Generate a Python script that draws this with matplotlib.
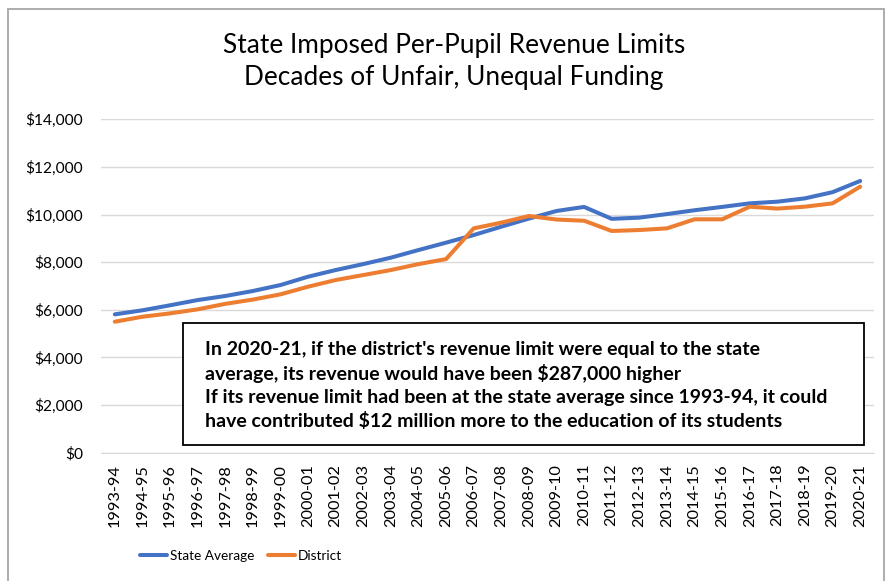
import matplotlib
matplotlib.use("Agg")
import matplotlib.pyplot as plt
from matplotlib.patches import Rectangle
from matplotlib.ticker import FuncFormatter, MultipleLocator

plt.rcParams['font.family'] = ['Lato', 'DejaVu Sans']

years = ['1993-94', '1994-95', '1995-96', '1996-97', '1997-98', '1998-99', '1999-00',
         '2000-01', '2001-02', '2002-03', '2003-04', '2004-05', '2005-06', '2006-07',
         '2007-08', '2008-09', '2009-10', '2010-11', '2011-12', '2012-13', '2013-14',
         '2014-15', '2015-16', '2016-17', '2017-18', '2018-19', '2019-20', '2020-21']
state_avg = [5810, 5980, 6190, 6410, 6580, 6790, 7040, 7390, 7670, 7920, 8190, 8510,
             8820, 9140, 9490, 9830, 10150, 10320, 9820, 9870, 10020, 10180, 10320,
             10470, 10540, 10680, 10940, 11410]
district = [5500, 5710, 5850, 6020, 6250, 6430, 6650, 6970, 7250, 7460, 7670, 7920,
            8130, 9420, 9660, 9940, 9790, 9740, 9310, 9350, 9420, 9800, 9800, 10330,
            10250, 10330, 10470, 11170]

note = ("In 2020-21, if the district's revenue limit were equal to the state\n"
        "average, its revenue would have been $287,000 higher\n"
        "If its revenue limit had been at the state average since 1993-94, it could\n"
        "have contributed $12 million more to the education of its students")

fig = plt.figure(figsize=(8.87, 5.81), dpi=100)
ax = fig.add_axes([0.1139, 0.2208, 0.8714, 0.5739])

x = range(len(years))
ax.plot(x, state_avg, color='#4472C4', lw=2.9, label='State Average', solid_capstyle='round')
ax.plot(x, district, color='#ED7D31', lw=2.9, label='District', solid_capstyle='round')

ax.set_xlim(-0.5, len(years) - 0.5)
ax.set_ylim(0, 14000)
ax.yaxis.set_major_locator(MultipleLocator(2000))
ax.yaxis.set_major_formatter(FuncFormatter(lambda v, p: '${:,.0f}'.format(v)))
ax.set_xticks(list(x))
ax.set_xticklabels(years, rotation=90)
ax.tick_params(axis='both', length=0, colors='#000000')
ax.tick_params(axis='y', pad=13, labelsize=11.2)
ax.tick_params(axis='x', pad=8, labelsize=11.8)
ax.grid(axis='y', color='#d9d9d9', lw=1)
ax.set_axisbelow(True)
for s in ['top', 'right', 'left']:
    ax.spines[s].set_visible(False)
ax.spines['bottom'].set_color('#d9d9d9')

fig.text(0.512, 0.922, 'State Imposed Per-Pupil Revenue Limits', ha='center', va='center', fontsize=18.9)
fig.text(0.512, 0.867, 'Decades of Unfair, Unequal Funding', ha='center', va='center', fontsize=18.9)

# annotation box
box = Rectangle((183 / 887, 1 - 445 / 581), (864 - 183) / 887, (445 - 323) / 581,
                transform=fig.transFigure, facecolor='white', edgecolor='black', lw=1.3, zorder=3)
fig.add_artist(box)
fig.text(0.231, 1 - 385.5 / 581, note, ha='left', va='center', fontsize=14, fontweight='bold',
         linespacing=1.42, zorder=4)

fig.legend(loc='center', bbox_to_anchor=(0.272, 0.043), ncol=2, frameon=False,
           fontsize=9.8, handlelength=2.0, columnspacing=1.0, handletextpad=0.2)

fig.add_artist(Rectangle((8 / 887, -0.01), (884 - 8) / 887, 1 - 9 / 581 + 0.01,
                         transform=fig.transFigure, fill=False, edgecolor='#a6a6a6', lw=1.3))

fig.savefig('out.png', dpi=100)
